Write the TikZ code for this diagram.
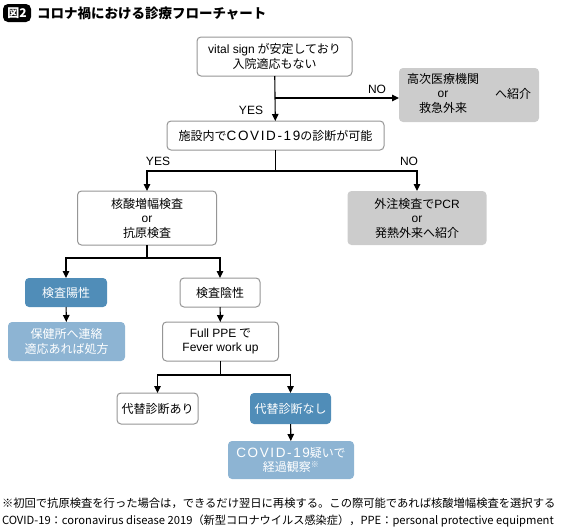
\documentclass[tikz,border=0pt]{standalone}
\usepackage{fontspec}
\setmainfont{Noto Sans CJK JP}
\newfontfamily\lat{Liberation Sans}
\newfontfamily\latwide[LetterSpace=12]{Liberation Sans}
\newcommand\covidtxt{{\latwide\fontsize{13.5}{14.5}\selectfont COVID-19}}
\usetikzlibrary{arrows.meta}
\definecolor{boxline}{RGB}{150,150,150}
\definecolor{grayfill}{RGB}{204,204,204}
\definecolor{darkblue}{RGB}{80,141,184}
\definecolor{lightblue}{RGB}{141,180,211}
\begin{document}
\begin{tikzpicture}[y=1pt, x=1pt, yscale=-1, inner sep=0pt, outer sep=0pt,
	box/.style={rectangle, rounded corners=4, draw=boxline, line width=1, fill=white, align=center, font=\fontsize{12}{14.5}\selectfont},
	graybox/.style={box, draw=none, fill=grayfill},
	darkbox/.style={box, draw=none, fill=darkblue, text=white},
	lightbox/.style={box, draw=none, fill=lightblue, text=white},
	flow/.style={line width=1.1, -{Triangle[length=7pt, width=6.5pt]}},
	lbl/.style={font=\fontsize{12}{14}\selectfont\lat}]
\useasboundingbox (0,0) rectangle (573,530);
% title
\node[fill=black, text=white, rounded corners=5, minimum width=28, minimum height=18, font=\fontsize{12}{14}\selectfont\bfseries] (fig) at (17,13) {図2};
\node[anchor=west, font=\fontsize{13.5}{16}\selectfont\bfseries] (title) at (37,13) {コロナ禍における診療フローチャート};
% boxes
\node[box, minimum width=155, minimum height=39] (V) at (274.5,56.5) {{\lat vital sign} が安定しており\\入院適応もない};
\node[graybox, minimum width=140, minimum height=54] (H) at (469,95) {\begin{tabular}{@{}c@{}}高次医療機関\\{\lat or}\\救急外来\end{tabular}\hspace{16pt}へ紹介};
\node[box, minimum width=217, minimum height=29] (S) at (275.5,135.5) {施設内で\covidtxt の診断が可能};
\node[box, minimum width=139, minimum height=54] (T) at (147,218) {核酸増幅検査\\{\lat or}\\抗原検査};
\node[graybox, minimum width=139, minimum height=54] (P) at (417,218) {外注検査で{\lat PCR}\\{\lat or}\\発熱外来へ紹介};
\node[darkbox, minimum width=82, minimum height=29] (Pos) at (66,292.5) {検査陽性};
\node[lightbox, minimum width=117, minimum height=39] (Ho) at (66.5,341.5) {保健所へ連絡\\適応あれば処方};
\node[box, minimum width=80, minimum height=29] (Neg) at (220,292.5) {検査陰性};
\node[box, minimum width=116, minimum height=39] (F) at (220.5,341.5) {{\lat Full PPE} で\\{\lat Fever work up}};
\node[box, minimum width=81, minimum height=31] (A) at (157.5,408.5) {代替診断あり};
\node[darkbox, minimum width=81, minimum height=31] (N) at (290.5,408.5) {代替診断なし};
\node[lightbox, minimum width=126, minimum height=38] (C) at (291,460) {\covidtxt 疑いで\\経過観察\textsuperscript{※}};
% branch points
\coordinate (vb) at (274.5,98);
\coordinate (sb) at (275.5,171);
\coordinate (tb) at (147,258);
\coordinate (fb) at (220.5,375);
% connectors
\draw[flow] (V) -- (S);
\draw[flow] (vb) -- (H.west |- vb);
\draw[flow] (S) -- (sb) -| (T);
\draw[flow] (sb) -| (P);
\draw[flow] (T) -- (tb) -| (Pos);
\draw[flow] (tb) -| (Neg);
\draw[flow] (Pos) -- (Ho);
\draw[flow] (Neg) -- (F);
\draw[flow] (F) -- (fb) -| (A);
\draw[flow] (fb) -| (N);
\draw[flow] (N) -- (C);
% labels
\node[lbl] (yes1) at (251,110) {YES};
\node[lbl] (no1) at (377,89) {NO};
\node[lbl] (yes2) at (158,161) {YES};
\node[lbl] (no2) at (409,161) {NO};
% notes
\node[anchor=west, font=\fontsize{11.3}{13}\selectfont] (note1) at (2,503) {※初回で抗原検査を行った場合は，できるだけ翌日に再検する。この際可能であれば核酸増幅検査を選択する};
\node[anchor=west, font=\fontsize{11.2}{13}\selectfont] (note2) at (2,521) {COVID-19：coronavirus disease 2019（新型コロナウイルス感染症），PPE：personal protective equipment};
\end{tikzpicture}
\end{document}
